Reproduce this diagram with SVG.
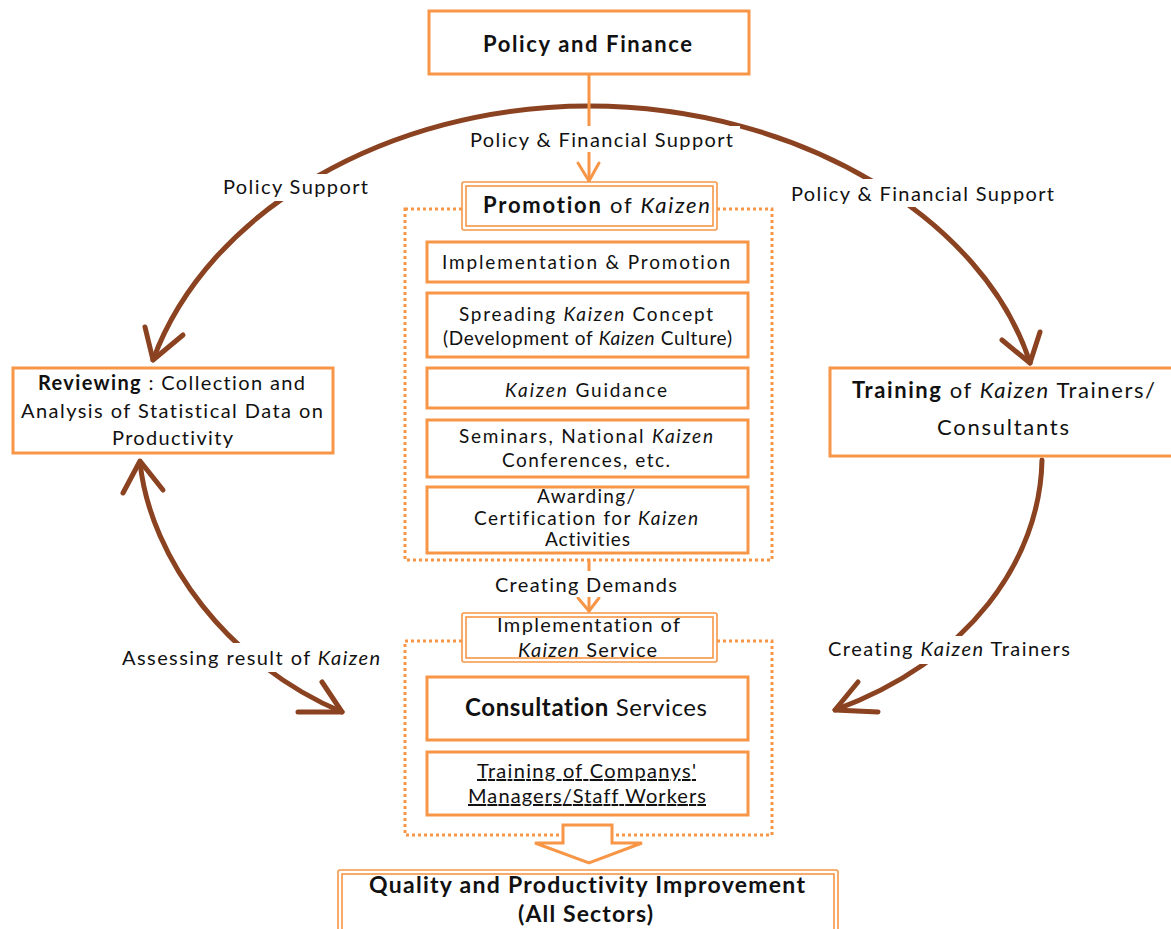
<svg xmlns="http://www.w3.org/2000/svg" width="1171" height="929" viewBox="0 0 1171 929">
  <style>
    .box { fill: #fff; stroke: #F79646; stroke-width: 3; }
    .dbl { fill: none; stroke: #F79646; stroke-width: 1.6; }
    .dot { fill: none; stroke: #F79646; stroke-width: 3; stroke-dasharray: 3 3; }
    .flow { fill: none; stroke: #8B4220; stroke-width: 5; stroke-linecap: round; stroke-linejoin: round; }
    .feed { fill: none; stroke: #F79646; stroke-width: 3; stroke-linecap: round; stroke-linejoin: round; }
    .bg { fill: #fff; stroke: none; }
    text { font-family: Lato, "Liberation Sans", sans-serif; fill: #111; font-variant-ligatures: none; }
    .t { font-size: 19px; }
    .l { font-size: 20px; }
    .h { font-size: 22px; }
    .b { font-weight: bold; }
    .i { font-style: italic; }
    .u { text-decoration: underline; }
  </style>

  <!-- outer cycle: brown curved arrows -->
  <g id="connectors">
    <!-- top arc, left half to Reviewing -->
    <path class="flow" d="M589 106 C389 106 208 210 153 360"/>
    <path class="flow" d="M145 327 L153 360 L183 335"/>
    <!-- top arc, right half to Training -->
    <path class="flow" d="M589 106 C800 106 985 220 1030 363"/>
    <path class="flow" d="M1002 340 L1030 363 L1040 332"/>
    <!-- Reviewing <-> Consultation (two-way) -->
    <path class="flow" d="M140 462 C150 560 230 665 342 712"/>
    <path class="flow" d="M123 493 L140 461 L163 490"/>
    <path class="flow" d="M322 682 L342 712 L298 712"/>
    <!-- Training -> Consultation -->
    <path class="flow" d="M1042 460 C1040 560 970 660 835 710"/>
    <path class="flow" d="M858 682 L835 710 L878 712"/>

    <!-- Policy and Finance -> Promotion -->
    <line class="feed" x1="589" y1="74" x2="589" y2="181"/>
    <path class="feed" d="M578 163 L589 181 L599 163"/>
    <!-- Promotion -> Implementation -->
    <line class="feed" x1="589" y1="560" x2="589" y2="611"/>
    <path class="feed" d="M578 598 L589 611 L599 598"/>

    <!-- label backgrounds interrupting the lines -->
    <rect class="bg" x="464" y="126" width="276" height="26"/>
    <rect class="bg" x="217" y="174" width="157" height="27"/>
    <rect class="bg" x="785" y="179" width="275" height="28"/>
    <rect class="bg" x="116" y="643" width="270" height="29"/>
    <rect class="bg" x="822" y="636" width="254" height="28"/>
    <rect class="bg" x="488" y="571" width="196" height="26"/>

    <text class="l" x="470" y="147" textLength="263" lengthAdjust="spacing">Policy &amp; Financial Support</text>
    <text class="l" x="223" y="194" textLength="145" lengthAdjust="spacing">Policy Support</text>
    <text class="l" x="791" y="201" textLength="263" lengthAdjust="spacing">Policy &amp; Financial Support</text>
    <text class="l" x="122" y="665" textLength="258" lengthAdjust="spacing">Assessing result of <tspan class="i">Kaizen</tspan></text>
    <text class="l" x="828" y="656" textLength="242" lengthAdjust="spacing">Creating <tspan class="i">Kaizen</tspan> Trainers</text>
    <text class="l" x="495" y="592" textLength="182" lengthAdjust="spacing">Creating Demands</text>
  </g>

  <!-- Policy and Finance -->
  <g id="policy-finance">
    <rect class="box" x="429" y="11" width="320" height="63"/>
    <text class="b" style="font-size:22px" x="483" y="52" textLength="209" lengthAdjust="spacing">Policy and Finance</text>
  </g>

  <!-- Promotion of Kaizen group -->
  <g id="promotion">
    <rect class="dot" x="405" y="209" width="367" height="351"/>
    <rect x="462" y="182" width="255" height="48" rx="2" fill="#fff" stroke="#F79646" stroke-width="1.6"/>
    <rect class="dbl" x="466" y="186" width="247" height="40"/>
    <text class="h" x="483" y="213" textLength="227" lengthAdjust="spacing"><tspan class="b">Promotion</tspan> of <tspan class="i">Kaizen</tspan></text>
  </g>
  <g id="implementation-promotion">
    <rect class="box" x="427" y="242" width="321" height="40"/>
    <text class="t" x="442" y="269" textLength="288" lengthAdjust="spacing">Implementation &amp; Promotion</text>
  </g>
  <g id="spreading-concept">
    <rect class="box" x="427" y="293" width="321" height="64"/>
    <text class="t" x="459" y="321" textLength="254" lengthAdjust="spacing">Spreading <tspan class="i">Kaizen</tspan> Concept</text>
    <text class="t" x="443" y="345" textLength="289" lengthAdjust="spacing">(Development of <tspan class="i">Kaizen</tspan> Culture)</text>
  </g>
  <g id="kaizen-guidance">
    <rect class="box" x="427" y="368" width="321" height="40"/>
    <text class="t" x="505" y="397" textLength="162" lengthAdjust="spacing"><tspan class="i">Kaizen</tspan> Guidance</text>
  </g>
  <g id="seminars">
    <rect class="box" x="427" y="420" width="321" height="57"/>
    <text class="t" x="459" y="443" textLength="254" lengthAdjust="spacing">Seminars, National <tspan class="i">Kaizen</tspan></text>
    <text class="t" x="502" y="467" textLength="168" lengthAdjust="spacing">Conferences, etc.</text>
  </g>
  <g id="awarding">
    <rect class="box" x="427" y="487" width="321" height="66"/>
    <text class="t" x="537" y="503" textLength="98" lengthAdjust="spacing">Awarding/</text>
    <text class="t" x="474" y="525" textLength="224" lengthAdjust="spacing">Certification for <tspan class="i">Kaizen</tspan></text>
    <text class="t" x="545" y="546" textLength="85" lengthAdjust="spacing">Activities</text>
  </g>

  <!-- Reviewing -->
  <g id="reviewing">
    <rect class="box" x="13" y="368" width="320" height="85"/>
    <text class="l" x="38" y="390" textLength="267" lengthAdjust="spacing"><tspan class="b">Reviewing</tspan> : Collection and</text>
    <text class="l" x="21" y="418" textLength="302" lengthAdjust="spacing">Analysis of Statistical Data on</text>
    <text class="l" x="112" y="445" textLength="121" lengthAdjust="spacing">Productivity</text>
  </g>

  <!-- Training of trainers -->
  <g id="training-trainers">
    <rect class="box" x="830" y="368" width="360" height="88"/>
    <text class="h" x="852" y="398" textLength="303" lengthAdjust="spacing"><tspan class="b">Training</tspan> of <tspan class="i">Kaizen</tspan> Trainers/</text>
    <text class="h" x="937" y="435" textLength="132" lengthAdjust="spacing">Consultants</text>
  </g>

  <!-- Implementation of Kaizen Service group -->
  <g id="implementation-service">
    <rect class="dot" x="405" y="641" width="367" height="194"/>
    <rect x="462" y="613" width="255" height="49" rx="2" fill="#fff" stroke="#F79646" stroke-width="1.6"/>
    <rect class="dbl" x="466" y="617" width="247" height="41"/>
    <text class="l" x="497" y="632" textLength="183" lengthAdjust="spacing">Implementation of</text>
    <text class="l" x="518" y="657" textLength="139" lengthAdjust="spacing"><tspan class="i">Kaizen</tspan> Service</text>
  </g>
  <g id="consultation">
    <rect class="box" x="427" y="677" width="321" height="63"/>
    <text style="font-size:24px" x="465" y="716" textLength="242" lengthAdjust="spacing"><tspan class="b">Consultation</tspan> Services</text>
  </g>
  <g id="company-training">
    <rect class="box" x="427" y="752" width="321" height="63"/>
    <text class="l u" x="477" y="778" textLength="219" lengthAdjust="spacing">Training of Companys'</text>
    <text class="l u" x="468" y="803" textLength="238" lengthAdjust="spacing">Managers/Staff Workers</text>
  </g>

  <!-- block arrow to outcome -->
  <g id="outcome-arrow">
    <path d="M563 825 L612 825 L612 843 L642 843 L589 863 L535 843 L563 843 Z" fill="#fff" stroke="#F79646" stroke-width="3" stroke-linejoin="miter"/>
  </g>

  <!-- Quality and Productivity Improvement -->
  <g id="quality">
    <rect x="338" y="870" width="500" height="80" rx="2" fill="#fff" stroke="#F79646" stroke-width="1.6"/>
    <rect class="dbl" x="342" y="874" width="492" height="72"/>
    <text class="b" style="font-size:23px" x="369" y="893" textLength="436" lengthAdjust="spacing">Quality and Productivity Improvement</text>
    <text class="b" style="font-size:23px" x="518" y="922" textLength="135" lengthAdjust="spacing">(All Sectors)</text>
  </g>
</svg>
